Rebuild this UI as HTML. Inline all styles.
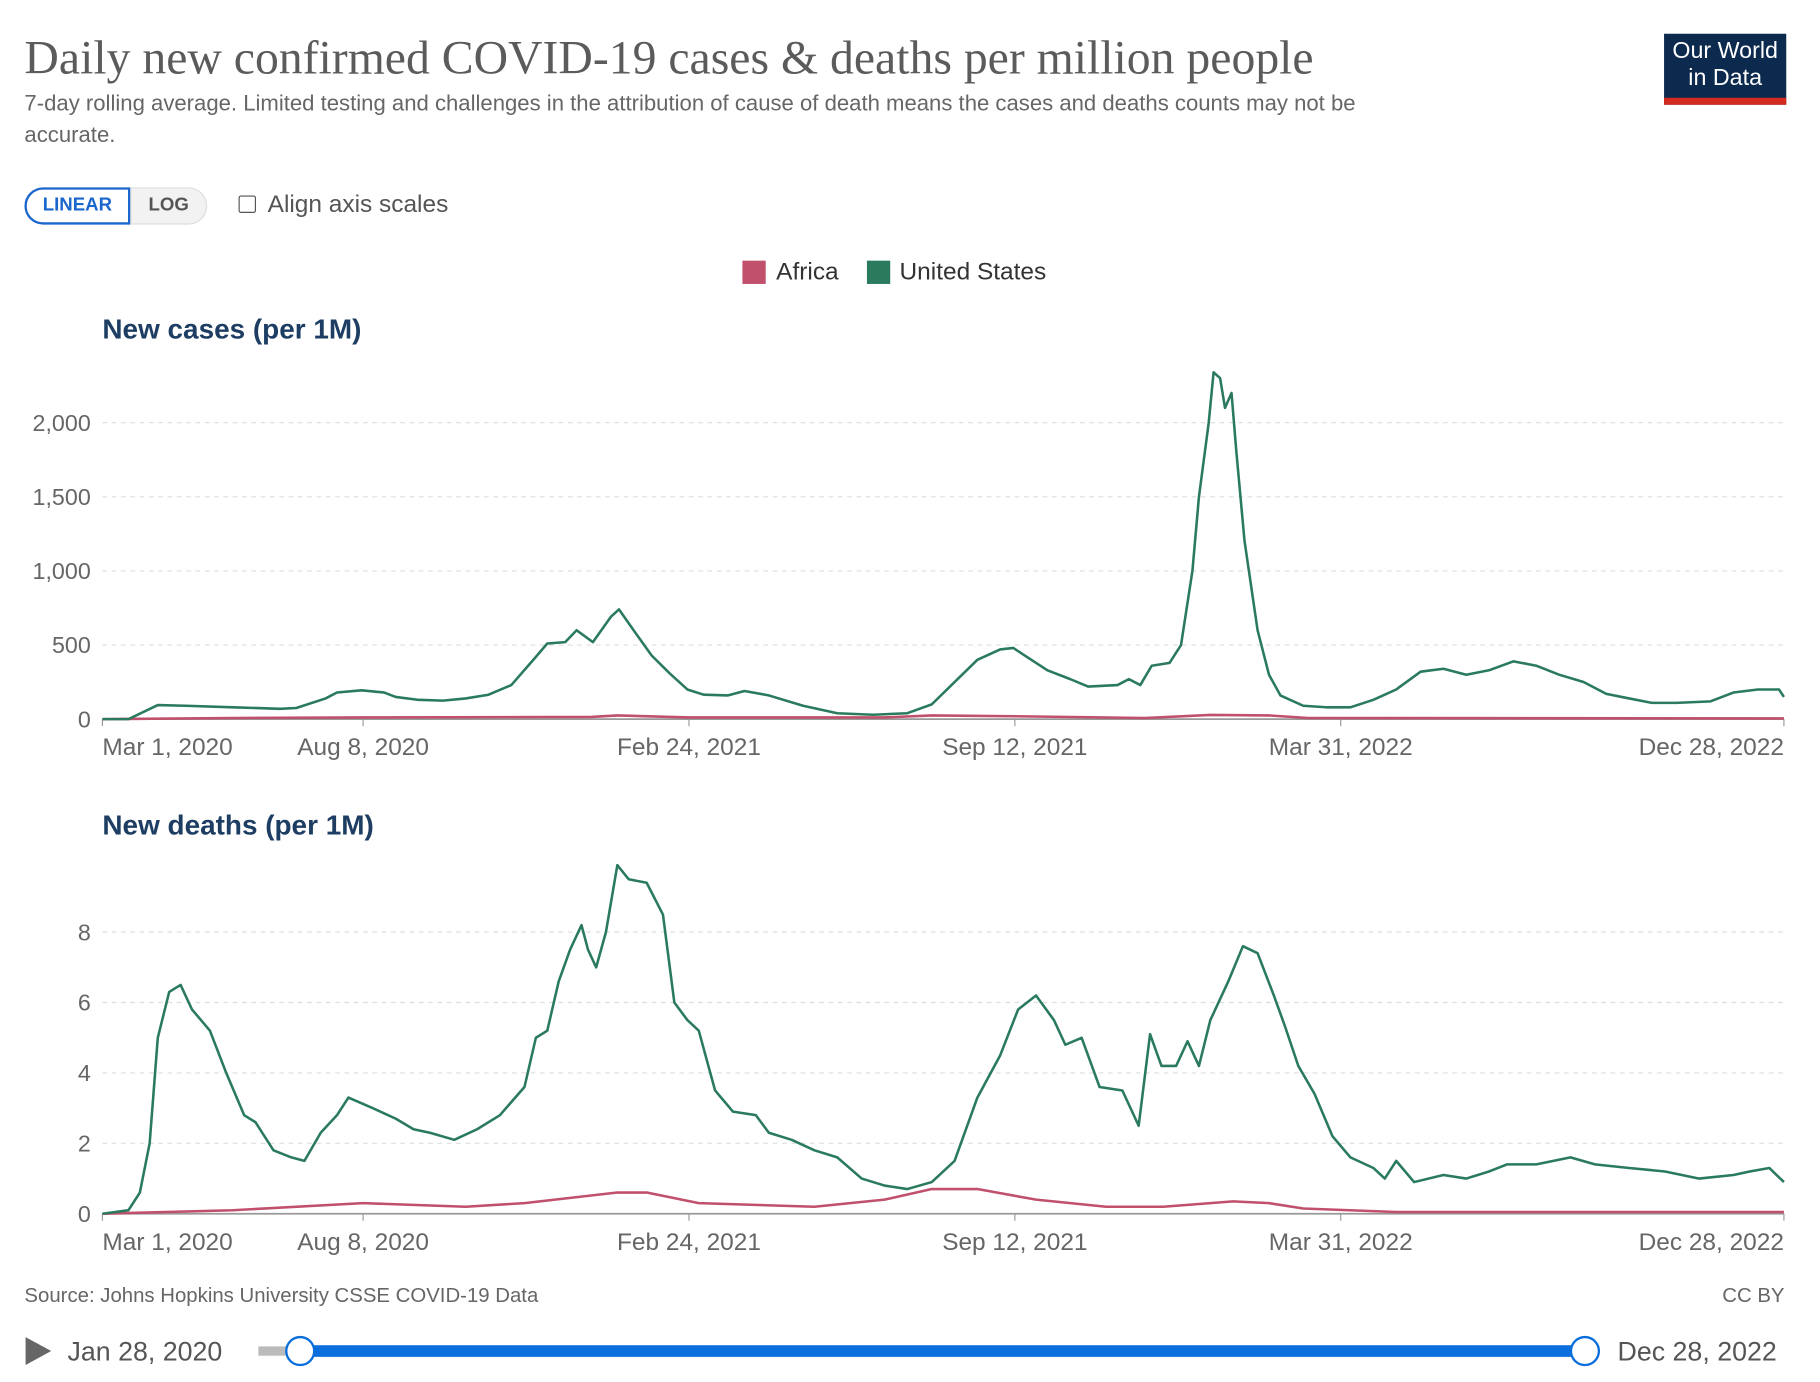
<!DOCTYPE html>
<html><head><meta charset="utf-8"><style>
html,body{margin:0;padding:0;background:#fff;width:1820px;height:1382px;overflow:hidden}
#wrap{position:absolute;left:0;top:0;width:1564px;height:1188px;transform:scale(1.16368);transform-origin:0 0;font-family:"Liberation Sans",sans-serif}
.abs{position:absolute;white-space:nowrap}
</style></head><body>
<div id="wrap">
<div class="abs" style="left:21px;top:25px;font-family:'Liberation Serif',serif;font-size:41px;color:#5b5b5b">Daily new confirmed COVID-19 cases &amp; deaths per million people</div>
<div class="abs" style="left:21px;top:76px;font-size:19px;color:#666;line-height:27px">7-day rolling average. Limited testing and challenges in the attribution of cause of death means the cases and deaths counts may not be<br>accurate.</div>
<div class="abs" style="left:1430px;top:29px;width:105px;height:61px;background:#0c2a4d;color:#fff;font-size:20px;line-height:23px;text-align:center;padding-top:4px;box-sizing:border-box;border-bottom:6px solid #d42b21">Our World<br>in Data</div>
<div class="abs" style="left:21px;top:161px;width:91px;height:32px;border:2px solid #1a66cc;box-sizing:border-box;border-radius:16px 0 0 16px;color:#1a66cc;font-weight:bold;font-size:16px;line-height:28px;text-align:center">LINEAR</div>
<div class="abs" style="left:112px;top:161px;width:66px;height:32px;border:1px solid #ddd;background:#f2f2f2;box-sizing:border-box;border-radius:0 16px 16px 0;color:#555;font-weight:bold;font-size:16px;line-height:30px;text-align:center">LOG</div>
<div class="abs" style="left:205px;top:168px;width:13px;height:13px;border:1.5px solid #555;border-radius:2px"></div>
<div class="abs" style="left:230px;top:164px;font-size:21px;color:#555">Align axis scales</div>
<div class="abs" style="left:638px;top:224px;font-size:21px;color:#333;line-height:20px"><span style="display:inline-block;width:20px;height:20px;background:#c0506b;vertical-align:top;margin-right:9px"></span>Africa</div>
<div class="abs" style="left:745px;top:224px;font-size:21px;color:#333;line-height:20px"><span style="display:inline-block;width:20px;height:20px;background:#2a7a5e;vertical-align:top;margin-right:8px"></span>United States</div>
<svg id="svg" width="1564" height="1188" style="position:absolute;left:0;top:0"></svg>
<div class="abs" style="left:21px;top:1103px;font-size:17.5px;color:#666">Source: Johns Hopkins University CSSE COVID-19 Data</div>
<div class="abs" style="left:1480px;top:1103px;font-size:17.5px;color:#666">CC BY</div>
<div class="abs" style="left:22px;top:1149px;width:0;height:0;border-left:22px solid #666;border-top:12px solid transparent;border-bottom:12px solid transparent"></div>
<div class="abs" style="left:58px;top:1148px;font-size:23px;color:#555">Jan 28, 2020</div>
<div class="abs" style="left:1390px;top:1148px;font-size:23px;color:#555">Dec 28, 2022</div>
<div class="abs" style="left:222px;top:1157px;width:40px;height:8px;background:#bbb"></div>
<div class="abs" style="left:258px;top:1156px;width:1104px;height:10px;background:#0a6fdc"></div>
<div class="abs" style="left:245px;top:1148px;width:22px;height:22px;border:2px solid #0a6fdc;background:#fff;border-radius:50%"></div>
<div class="abs" style="left:1349px;top:1148px;width:22px;height:22px;border:2px solid #0a6fdc;background:#fff;border-radius:50%"></div>
</div>
<script>
// day offsets from Mar 1, 2020
const usCaseDays=[0,16,34,51,80,109,119,137,144,159,173,180,194,209,223,237,251,266,273,284,291,301,312,317,326,337,348,359,369,384,394,409,430,451,473,494,509,523,537,551,559,566,580,594,605,623,630,637,644,655,662,669,673,679,682,686,689,693,696,701,709,716,723,737,751,766,780,794,809,823,837,851,866,880,894,909,923,937,951,966,987,1001,1016,1029,1032];
const usCases=[0,0,95,90,80,70,75,140,180,195,180,150,130,125,140,165,230,420,510,520,600,520,690,740,600,430,310,200,165,160,190,160,90,40,30,40,100,250,400,470,480,430,330,270,220,230,270,230,360,380,500,1000,1500,2000,2340,2300,2100,2200,1800,1200,600,300,160,90,80,80,130,200,320,340,300,330,390,360,300,250,170,140,110,110,120,180,200,200,150];
const afCaseDays=[0,80,160,300,316,360,480,509,560,640,680,716,740,1032];
const afCases=[0,8,12,15,25,12,12,25,20,8,28,25,8,5];
const usDeathDays=[0,16,23,29,34,41,48,55,66,76,87,94,105,116,124,134,144,151,166,180,191,201,216,230,244,259,266,273,280,287,294,298,303,309,316,323,334,344,351,359,366,376,387,401,409,423,437,451,466,480,494,509,523,537,551,562,573,584,591,601,612,626,636,643,650,659,666,673,680,691,700,709,719,726,734,744,755,766,780,787,794,805,823,837,851,862,880,901,916,937,959,980,1001,1011,1023,1032];
const usDeaths=[0,0.1,0.6,2,5,6.3,6.5,5.8,5.2,4,2.8,2.6,1.8,1.6,1.5,2.3,2.8,3.3,3.0,2.7,2.4,2.3,2.1,2.4,2.8,3.6,5,5.2,6.6,7.5,8.2,7.5,7.0,8.0,9.9,9.5,9.4,8.5,6.0,5.5,5.2,3.5,2.9,2.8,2.3,2.1,1.8,1.6,1.0,0.8,0.7,0.9,1.5,3.3,4.5,5.8,6.2,5.5,4.8,5.0,3.6,3.5,2.5,5.1,4.2,4.2,4.9,4.2,5.5,6.6,7.6,7.4,6.2,5.3,4.2,3.4,2.2,1.6,1.3,1.0,1.5,0.9,1.1,1.0,1.2,1.4,1.4,1.6,1.4,1.3,1.2,1.0,1.1,1.2,1.3,0.9];
const afDeathDays=[0,80,160,223,259,316,334,366,437,480,509,537,573,616,651,694,716,737,794,1032];
const afDeaths=[0,0.1,0.3,0.2,0.3,0.6,0.6,0.3,0.2,0.4,0.7,0.7,0.4,0.2,0.2,0.35,0.3,0.15,0.05,0.05];
const xTickDays=[0,160,360,560,760,1032];
const xTickLabels=["Mar 1, 2020","Aug 8, 2020","Feb 24, 2021","Sep 12, 2021","Mar 31, 2022","Dec 28, 2022"];
const caseTicks=[0,500,1000,1500,2000];
const caseTickLabels=["0","500","1,000","1,500","2,000"];
const deathTicks=[0,2,4,6,8];
const deathTickLabels=["0","2","4","6","8"];

const NS="http://www.w3.org/2000/svg",svg=document.getElementById('svg');
const X0=88,X1=1533,TOTAL=1032;
const xs=d=>X0+d/TOTAL*(X1-X0);
function mk(tag,attrs,parent){const e=document.createElementNS(NS,tag);for(const k in attrs)e.setAttribute(k,attrs[k]);(parent||svg).appendChild(e);return e;}
function panel(name,title,titleY,y0,pxPerUnit,ticks,labels,series){
  const ys=v=>y0-v*pxPerUnit;
  const g=mk('g',{});
  
  
  const t=mk('text',{x:88,y:titleY,'font-size':24,'font-weight':'bold',fill:'#1d3d63','font-family':'Liberation Sans, sans-serif'},g);
  t.textContent=title;
  
  
  ticks.forEach((v,i)=>{
    if(v>0){const l=mk('line',{x1:X0,x2:X1,y1:ys(v),y2:ys(v),stroke:'#ddd','stroke-dasharray':'4,4'},g);
    
    }
    const tl=mk('text',{x:78,y:ys(v)+7,'text-anchor':'end','font-size':20,fill:'#666','font-family':'Liberation Sans, sans-serif'},g);
    tl.textContent=labels[i];
    
    
  });
  const ax=mk('line',{x1:X0,x2:X1,y1:y0,y2:y0,stroke:'#999','stroke-width':1.5},g);
  
  
  xTickDays.forEach((d,i)=>{
    const tk=mk('line',{x1:xs(d),x2:xs(d),y1:y0,y2:y0+6,stroke:'#999'},g);
    
    
    const last=i===xTickDays.length-1,first=i===0;
    const tl=mk('text',{x:xs(d),y:y0+31,'text-anchor':first?'start':last?'end':'middle','font-size':21,fill:'#666','font-family':'Liberation Sans, sans-serif'},g);
    tl.textContent=xTickLabels[i];
    
    
  });
  series.forEach(s=>{
    const pts=s.days.map((d,i)=>xs(d).toFixed(1)+','+ys(s.vals[i]).toFixed(1)).join(' ');
    const p=mk('polyline',{points:pts,fill:'none',stroke:s.color,'stroke-width':2.2,'stroke-linejoin':'round'},g);
    
    
  });
}
panel('cases-panel','New cases (per 1M)',291,618,0.1274,caseTicks,caseTickLabels,[
 {name:'africa-cases-line',days:afCaseDays,vals:afCases,color:'#c0506b'},
 {name:'us-cases-line',days:usCaseDays,vals:usCases,color:'#2a7a5e'}]);
panel('deaths-panel','New deaths (per 1M)',717,1043,30.25,deathTicks,deathTickLabels,[
 {name:'africa-deaths-line',days:afDeathDays,vals:afDeaths,color:'#c0506b'},
 {name:'us-deaths-line',days:usDeathDays,vals:usDeaths,color:'#2a7a5e'}]);
</script>
</body></html>
